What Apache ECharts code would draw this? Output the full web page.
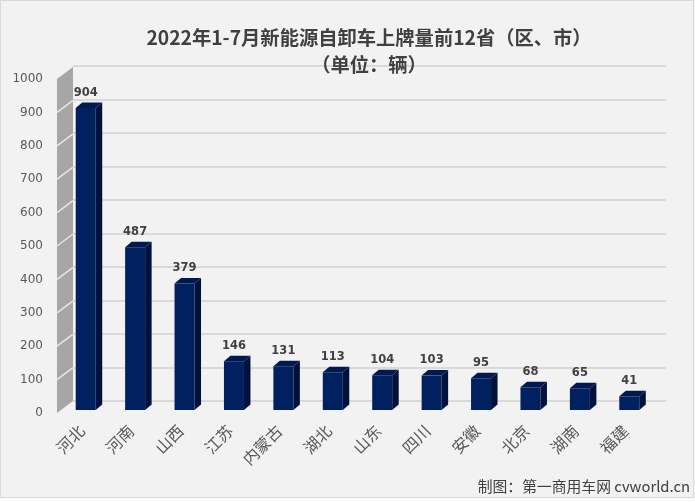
<!DOCTYPE html>
<html>
<head>
<meta charset="utf-8">
<style>
html,body{margin:0;padding:0;background:#fff;}
#main{position:absolute;left:0;top:0;width:695px;height:502px;}
</style>
<script src="https://cdn.jsdelivr.net/npm/echarts@6/dist/echarts.min.js"></script>
</head>
<body>
<div id="main"></div>
<script>
const provinces = ['河北','河南','山西','江苏','内蒙古','湖北','山东','四川','安徽','北京','湖南','福建'];
const sales = [904,487,379,146,131,113,104,103,95,68,65,41];
const yTicks = [0,100,200,300,400,500,600,700,800,900,1000];

const FONT = '"Noto Sans CJK SC","DejaVu Sans",sans-serif';
// 3d offsets, px
const wallDx = 16, wallDy = -12;
const barW = 20, barDx = 6.5, barDy = -5.5;

const chart = echarts.init(document.getElementById('main'));

function renderBar(params, api){
  const c = api.coord([api.value(0), api.value(1)]);
  const base = api.coord([api.value(0), 0]);
  const x = c[0] - 6 , y = c[1] - 3, r = x + barW, b = base[1] - 3;
  return {
    type:'group',
    children:[
      {type:'polygon',shape:{points:[[x,b],[x,y],[r,y],[r,b]]},style:{fill:'#002060'}},
      {type:'polygon',shape:{points:[[r,b],[r,y],[r+barDx,y+barDy],[r+barDx,b+barDy]]},style:{fill:'#00123c'}},
      {type:'polygon',shape:{points:[[x,y],[x+barDx,y+barDy],[r+barDx,y+barDy],[r,y]]},style:{fill:'#001a50'}},
      {type:'text',style:{text:String(api.value(1)),x:x+barW/2,y:y+barDy-4,align:'center',verticalAlign:'bottom',
        font:'bold 11.5px "DejaVu Sans",sans-serif',fill:'#404040'}}
    ]
  };
}

function renderWall(params, api){
  const lo = api.coord([0,0]), hi = api.coord([0,1000]);
  const x = params.coordSys.x;
  const kids = [{type:'polygon',shape:{points:[[x,lo[1]],[x,hi[1]],[x+wallDx,hi[1]+wallDy],[x+wallDx,lo[1]+wallDy]]},style:{fill:'#a6a6a6'}}];
  yTicks.slice(1,-1).forEach(function(t){
    const p = api.coord([0,t]);
    kids.push({type:'line',shape:{x1:x,y1:p[1],x2:x+wallDx,y2:p[1]+wallDy},style:{stroke:'#e6e6e6',lineWidth:1.5}});
  });
  return {type:'group',children:kids};
}

const option = {
  backgroundColor:'#f2f2f2',
  animation:false,
  title:{
    text:'2022年1-7月新能源自卸车上牌量前12省（区、市）\n（单位：辆）',
    left:364, top:19, textAlign:'center',
    textStyle:{fontFamily:FONT,fontSize:19.3,fontWeight:'bold',color:'#404040',lineHeight:27}
  },
  graphic:[
    {type:'rect',silent:true,z:-1,shape:{x:0.5,y:0.5,width:693,height:497},style:{fill:'none',stroke:'#d9d9d9'}},
    {type:'rect',silent:true,z:-1,shape:{x:0,y:498.5,width:695,height:4},style:{fill:'#fff'}},
    {type:'text',right:5,top:479,style:{text:'制图：第一商用车网 cvworld.cn',font:'14.8px '+FONT,fill:'#404040'}}
  ],
  grid:[
    {left:57,top:79,width:593,height:334},
    {left:73,top:66,width:593,height:335}
  ],
  xAxis:[
    {type:'category',data:provinces,gridIndex:0,axisLine:{show:false},axisTick:{show:false},
      axisLabel:{rotate:45,interval:0,fontFamily:FONT,fontSize:16,color:'#595959',margin:15}},
    {type:'category',data:provinces,gridIndex:1,show:false}
  ],
  yAxis:[
    {type:'value',min:0,max:1000,interval:100,gridIndex:0,axisLine:{show:false},axisTick:{show:false},splitLine:{show:false},
      axisLabel:{formatter:function(v){return String(v);},fontFamily:'"DejaVu Sans",sans-serif',fontSize:12,color:'#595959',margin:14,padding:[5,0,0,0]}},
    {type:'value',min:0,max:1000,interval:100,gridIndex:1,axisLine:{show:false},axisTick:{show:false},axisLabel:{show:false},
      splitLine:{show:true,lineStyle:{color:'#d9d9d9',width:2}}}
  ],
  series:[
    {type:'custom',xAxisIndex:0,yAxisIndex:0,renderItem:renderWall,data:[[0,0]],silent:true,z:1,clip:false},
    {type:'custom',xAxisIndex:0,yAxisIndex:0,renderItem:renderBar,
      encode:{x:0,y:1},data:provinces.map(function(p,i){return [i,sales[i]];}),z:2,clip:false}
  ]
};
chart.setOption(option);
</script>
</body>
</html>
